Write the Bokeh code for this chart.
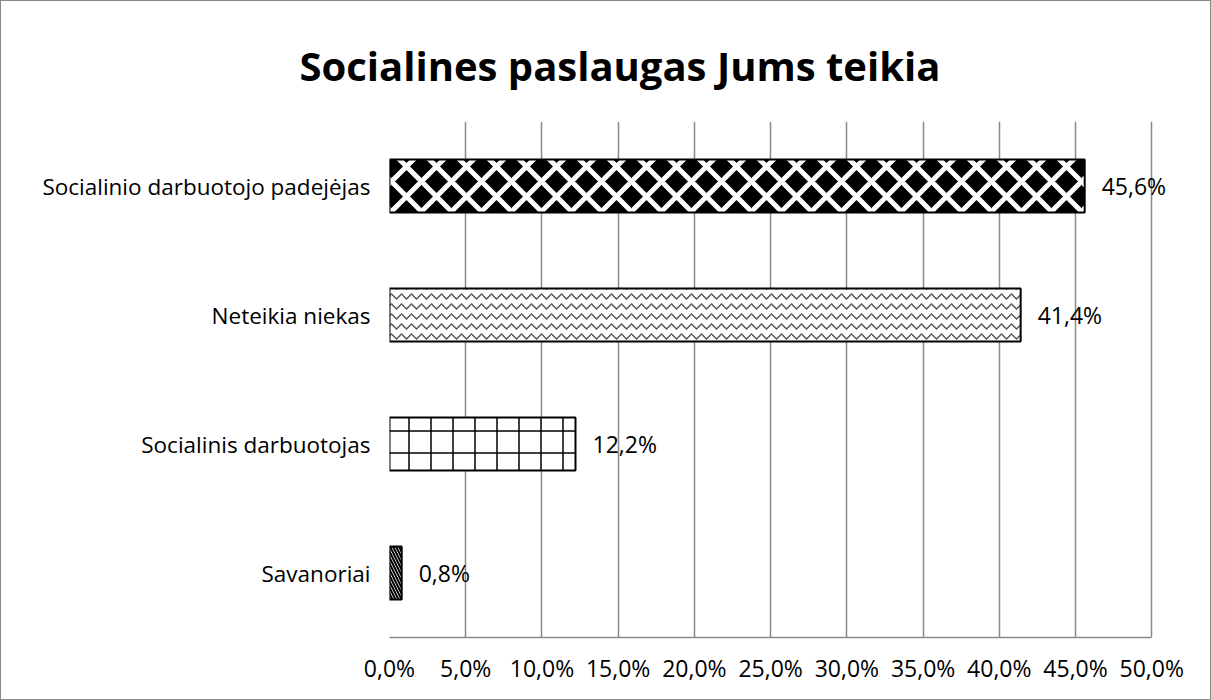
from bokeh.plotting import figure
from bokeh.models import ColumnDataSource, FixedTicker, Range1d, FactorRange
from bokeh.core.properties import value
from bokeh.embed import file_html
from bokeh.resources import INLINE

categories = ["Savanoriai", "Socialinis darbuotojas", "Neteikia niekas", "Socialinio darbuotojo padejėjas"]
values = [0.8, 12.2, 41.4, 45.6]
tick_values = [0, 5, 10, 15, 20, 25, 30, 35, 40, 45, 50]
tick_labels = ["0,0%", "5,0%", "10,0%", "15,0%", "20,0%", "25,0%", "30,0%", "35,0%", "40,0%", "45,0%", "50,0%"]
title_text = "Socialines paslaugas Jums teikia"
hatches = ["left_diagonal_line", "cross", "horizontal_wave", "diagonal_cross"]
fills = ["white", "white", "white", "black"]
hatch_colors = ["black", "black", "#555555", "white"]
hatch_scales = [6, 22, 10, 30]
hatch_weights = [2, 1.5, 1.5, 5]

FONT = "Open Sans"

# x range extends a little past 50% so that the value labels are not clipped;
# axis line and grid stop at 50%.
p = figure(width=1211, height=700, output_backend="svg", toolbar_location=None,
           y_range=FactorRange(*categories), x_range=Range1d(0, 53),
           min_border_left=388, min_border_right=15, min_border_top=120, min_border_bottom=64)
p.styles = {"border": "1px solid #8a8a8a", "box-sizing": "border-box"}

p.title.text = title_text
p.title.text_font = FONT
p.title.text_font_size = "40px"
p.title.text_font_style = "bold"
p.title.text_color = "black"
p.title.align = "left"
p.title.offset = -90
p.title.standoff = 57

for i in range(len(categories)):
    src = ColumnDataSource(dict(y=[categories[i]], right=[values[i]]))
    p.hbar(y="y", right="right", left=0, height=0.41, source=src,
           fill_color=fills[i], line_color="black", line_width=2,
           hatch_pattern=hatches[i], hatch_color=hatch_colors[i],
           hatch_scale=hatch_scales[i], hatch_weight=hatch_weights[i])

lab = ColumnDataSource(dict(x=values, y=categories,
                            t=[("%.1f" % v).replace(".", ",") + "%" for v in values]))
p.text(x="x", y="y", text="t", source=lab, x_offset=17, text_baseline="middle",
       text_align="left", text_font=value(FONT), text_font_size="23px", text_color="black")

p.xaxis.ticker = FixedTicker(ticks=tick_values)
p.xaxis.bounds = (0, 50)
p.xaxis.major_label_overrides = {v: l for v, l in zip(tick_values, tick_labels)}
p.xaxis.major_tick_line_color = None
p.xaxis.minor_tick_line_color = None
p.xaxis.axis_line_color = "#8a8a8a"
p.xaxis.axis_line_width = 1.5
p.xaxis.major_label_text_font = FONT
p.xaxis.major_label_text_font_size = "23px"
p.xaxis.major_label_text_color = "black"
p.xaxis.major_label_standoff = 8

p.yaxis.axis_line_color = None
p.yaxis.major_tick_line_color = None
p.yaxis.minor_tick_line_color = None
p.yaxis.major_label_text_font = FONT
p.yaxis.major_label_text_font_size = "22.5px"
p.yaxis.major_label_text_color = "black"
p.yaxis.major_label_standoff = 13

p.xgrid.grid_line_color = "#8a8a8a"
p.xgrid.grid_line_width = 1.5
p.ygrid.grid_line_color = None
p.outline_line_color = None

open("out.html", "w").write(file_html(p, INLINE))
